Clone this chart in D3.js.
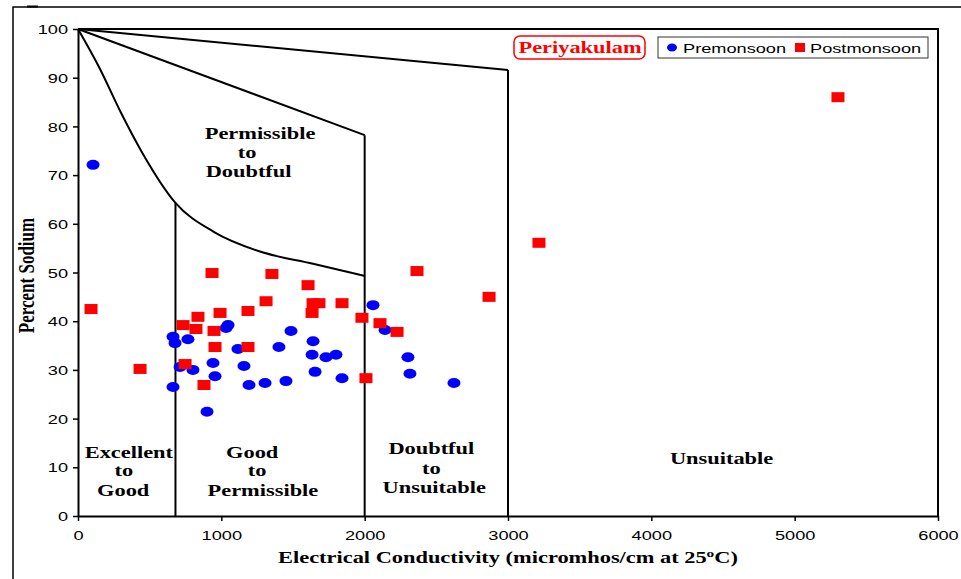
<!DOCTYPE html>
<html>
<head>
<meta charset="utf-8">
<script src="https://cdn.jsdelivr.net/npm/d3@7"></script>
<style>
  body { margin: 0; background: #fff; }
  text { fill: #000; }
</style>
</head>
<body>
<svg id="chart" width="961" height="579"></svg>
<script>
// Premonsoon samples (EC, % Na)
const preEC = [105, 663, 677, 767, 1047, 1033, 1486, 1116, 1402, 942, 1158, 712, 802, 956, 663,
               1193, 1305, 1451, 900, 2058, 2142, 1640, 1633, 1730, 1800, 2302, 1654, 1842, 2316, 2623];
const preNa = [72.1, 36.8, 35.5, 36.3, 39.2, 38.6, 38.0, 34.3, 34.7, 31.4, 30.8, 30.6, 30.0, 28.7, 26.5,
               26.9, 27.3, 27.7, 21.4, 43.3, 38.2, 35.9, 33.1, 32.6, 33.1, 32.6, 29.6, 28.3, 29.2, 27.3];

// Postmonsoon samples
const postEC = [91, 433, 733, 823, 837, 991, 935, 949, 956, 747, 879, 1186, 1186, 1312, 1353, 1605,
                1640, 1681, 1633, 1842, 1981, 2107, 2226, 2009, 2365, 2868, 3216, 5302];
const postNa = [42.5, 30.2, 39.2, 38.4, 40.9, 41.7, 49.9, 38.0, 34.7, 31.2, 26.9, 42.1, 34.7, 44.1, 49.7, 47.4,
                43.7, 43.7, 41.7, 43.7, 40.7, 39.6, 37.8, 28.3, 50.3, 45.0, 56.1, 86.0];

// Wilcox diagram boundaries
const curveEC = [0, 150, 300, 450, 680, 950, 1270, 1640, 2000];
const curveNa = [100, 92, 82.8, 74.5, 64.3, 58.3, 54.3, 51.8, 49.3];
const boundaryLines = [
  [[0, 100], [2000, 78.2]],
  [[0, 100], [3000, 91.6]],
  [[680, 0], [680, 64.3]],
  [[2000, 0], [2000, 78.2]],
  [[3000, 0], [3000, 91.6]]
];

const xTicks = [0, 1000, 2000, 3000, 4000, 5000, 6000];
const yTicks = [0, 10, 20, 30, 40, 50, 60, 70, 80, 90, 100];

// zone labels: [EC, %Na of baseline, text]
const zoneLabels = [
  [1270, 77.4, "Permissible"], [1180, 73.5, "to"], [1190, 69.6, "Doubtful"],
  [355, 11.9, "Excellent"], [320, 8.2, "to"], [315, 4.1, "Good"],
  [1215, 11.9, "Good"], [1250, 8.2, "to"], [1290, 4.1, "Permissible"],
  [2465, 12.7, "Doubtful"], [2465, 8.6, "to"], [2485, 4.7, "Unsuitable"],
  [4490, 10.7, "Unsuitable"]
];

const SX = 1.4; // the picture is stretched sideways

const svg = d3.select("#chart");

let x = d3.scaleLinear().domain([0, 6000]).range([78, 938]);
let y = d3.scaleLinear().domain([0, 100]).range([516, 29]);

// outer chart frame
svg.append("path")
  .attr("d", "M13,579 V7 H961")
  .attr("fill", "none")
  .attr("stroke", "#000")
  .attr("stroke-width", 1.5);
svg.append("line")
  .attr("x1", 27).attr("x2", 38).attr("y1", 6.5).attr("y2", 6.5)
  .attr("stroke", "#000").attr("stroke-width", 2);

// plot top/right border
svg.append("path")
  .attr("d", `M${x(0)},${y(100)} H${x(6000)} V${y(0)}`)
  .attr("fill", "none")
  .attr("stroke", "#000")
  .attr("stroke-width", 2);

// axes
let gX = svg.append("g").attr("transform", `translate(0,${y(0)})`)
  .call(d3.axisBottom(x).tickValues(xTicks).tickSize(5).tickSizeOuter(0).tickFormat(d3.format("d")));
let gY = svg.append("g").attr("transform", `translate(${x(0)},0)`)
  .call(d3.axisLeft(y).tickValues(yTicks).tickSize(5).tickSizeOuter(0));

[gX, gY].forEach(g => {
  g.select(".domain").attr("stroke", "#000").attr("stroke-width", 2);
  g.selectAll(".tick line").attr("stroke", "#000").attr("stroke-width", 1.5);
  g.selectAll("text")
    .attr("font-family", "Arial, 'Liberation Sans', sans-serif")
    .attr("font-size", 13)
    .attr("fill", "#000");
});
gX.selectAll("text").attr("y", 0).attr("dy", 0)
  .attr("transform", `translate(0,24) scale(${SX},1)`);
gY.selectAll("text").attr("x", 0).attr("dy", "0.36em")
  .attr("transform", `translate(-10,0) scale(${SX},1)`);

// boundary lines
svg.append("g").selectAll("line")
  .data(boundaryLines)
  .enter()
  .append("line")
  .attr("x1", d => x(d[0][0])).attr("y1", d => y(d[0][1]))
  .attr("x2", d => x(d[1][0])).attr("y2", d => y(d[1][1]))
  .attr("stroke", "#000")
  .attr("stroke-width", 2);

let curveLine = d3.line()
  .x((d, i) => x(curveEC[i]))
  .y((d, i) => y(curveNa[i]))
  .curve(d3.curveMonotoneX);
svg.append("path")
  .attr("d", curveLine(curveEC))
  .attr("fill", "none")
  .attr("stroke", "#000")
  .attr("stroke-width", 2);

// zone labels
svg.append("g").selectAll("text")
  .data(zoneLabels)
  .enter()
  .append("text")
  .attr("transform", d => `translate(${x(d[0])},${y(d[1])}) scale(${SX},1)`)
  .attr("text-anchor", "middle")
  .attr("font-family", "'Liberation Serif', 'Times New Roman', serif")
  .attr("font-weight", "bold")
  .attr("font-size", 16)
  .text(d => d[2]);

// points
svg.append("g").selectAll("ellipse")
  .data(preEC)
  .enter()
  .append("ellipse")
  .attr("cx", (d, i) => x(d))
  .attr("cy", (d, i) => y(preNa[i]))
  .attr("rx", 6.5)
  .attr("ry", 5)
  .attr("fill", "#0000ff");

svg.append("g").selectAll("rect")
  .data(postEC)
  .enter()
  .append("rect")
  .attr("x", (d, i) => x(d) - 6.5)
  .attr("y", (d, i) => y(postNa[i]) - 5)
  .attr("width", 13)
  .attr("height", 10)
  .attr("fill", "#ff0000");

// axis titles
let xTitle = svg.append("text")
  .attr("transform", `translate(${x(3000)},563) scale(${SX},1)`)
  .attr("text-anchor", "middle")
  .attr("font-family", "'Liberation Serif', 'Times New Roman', serif")
  .attr("font-weight", "bold")
  .attr("font-size", 16);
xTitle.append("tspan").text("Electrical Conductivity (micromhos/cm at 25");
xTitle.append("tspan").attr("dy", -6).attr("font-size", 11).text("o");
xTitle.append("tspan").attr("dy", 6).text("C)");

svg.append("text")
  .attr("transform", `translate(34,${y(50) + 3}) scale(${SX},1) rotate(-90)`)
  .attr("text-anchor", "middle")
  .attr("font-family", "'Liberation Serif', 'Times New Roman', serif")
  .attr("font-weight", "bold")
  .attr("font-size", 17)
  .text("Percent Sodium");

// title box
svg.append("rect")
  .attr("x", 514).attr("y", 36).attr("width", 131).attr("height", 23).attr("rx", 6)
  .attr("fill", "#fff").attr("stroke", "#ff0000").attr("stroke-width", 1.5);
svg.append("text")
  .attr("transform", `translate(580,53) scale(${SX},1)`)
  .attr("text-anchor", "middle")
  .attr("font-family", "'Liberation Serif', 'Times New Roman', serif")
  .attr("font-weight", "bold")
  .attr("font-size", 16)
  .style("fill", "#ff0000")
  .text("Periyakulam");

// legend
let legend = svg.append("g");
legend.append("rect")
  .attr("x", 658).attr("y", 37).attr("width", 270).attr("height", 21)
  .attr("fill", "#fff").attr("stroke", "#333").attr("stroke-width", 1);
legend.append("ellipse")
  .attr("cx", 672).attr("cy", 47.5).attr("rx", 5).attr("ry", 4).attr("fill", "#0000ff");
legend.append("rect")
  .attr("x", 795).attr("y", 43).attr("width", 10).attr("height", 9).attr("fill", "#ff0000");
[[683, "Premonsoon"], [810, "Postmonsoon"]].forEach(d => {
  legend.append("text")
    .attr("transform", `translate(${d[0]},52.5) scale(${SX},1)`)
    .attr("font-family", "Arial, 'Liberation Sans', sans-serif")
    .attr("font-size", 13)
    .text(d[1]);
});
</script>
</body>
</html>
